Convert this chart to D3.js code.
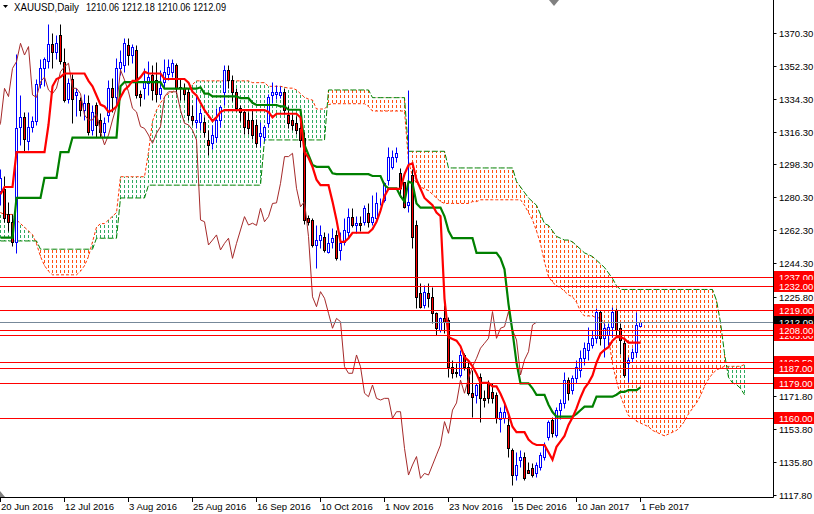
<!DOCTYPE html>
<html><head><meta charset="utf-8">
<script src="https://cdn.jsdelivr.net/npm/d3@7"></script>
<style>body{margin:0;background:#fff;}svg{display:block;font-family:"Liberation Sans",Arial,sans-serif;}</style>
</head><body><div id="chart"></div>
<script>
// ---------- DATA ----------
const symbolTitle = "XAUUSD,Daily";
const ohlcTitle = "1210.06 1212.18 1210.06 1212.09";
const dateLabels = ["20 Jun 2016","12 Jul 2016","3 Aug 2016","25 Aug 2016","16 Sep 2016","10 Oct 2016","1 Nov 2016","23 Nov 2016","15 Dec 2016","10 Jan 2017","1 Feb 2017"];
const dateLabelBars = [0,16,32,48,64,80,96,112,128,144,160];
const priceTicks = [1370.30,1352.30,1334.30,1316.30,1298.30,1280.30,1262.30,1244.30,1225.80,1171.80,1153.80,1135.80,1117.80];
const levelValues = [1237.00,1232.00,1219.00,1205.00,1208.00,1190.50,1187.00,1179.00,1160.00];
const currentPrice = 1212.09;

const opens = [1284,1285,1271,1267,1256,1319,1324,1311,1319,1322,
1342,1351,1355,1364,1360,1369,1354.5,1334,1345,1336,
1333.5,1328,1331.7,1317,1330.8,1322.6,1316.2,1325.3,1340,1335.4,
1350.8,1352.7,1363.6,1358,1361,1337,1340,1342.6,1347,1344.5,
1337,1343.5,1348,1349,1352.7,1340.8,1340,1338,1325,1321.7,
1321.7,1321.7,1311.7,1310,1313.5,1322.6,1338,1350,1344.5,1338,
1329,1327,1322.6,1322.6,1319.9,1314,1313.5,1320.8,1336.3,1337,
1336.3,1338,1325.3,1322.6,1320.8,1318,1313,1268.9,1268,1254.3,
1257,1258.9,1250.7,1256.1,1259.8,1251.6,1256,1261.6,1269.8,1265.2,
1266.2,1267,1271.6,1267,1268.9,1277,1278.9,1289.9,1297,1302.6,
1293.5,1288.9,1276.2,1292.6,1265.2,1227.9,1221.5,1227.9,1226,1217,
1208,1214.2,1213.3,1187.8,1185,1183.3,1194.2,1187.8,1173.3,1172.4,
1182.4,1170.5,1178.7,1174,1172.4,1159.2,1159.6,1156,1142.3,1128.6,
1136.7,1138.6,1131.4,1132.3,1129.5,1133.2,1138.7,1149.6,1158.7,1150.5,
1164,1168,1180.5,1175,1181.4,1186,1192.4,1196.9,1199.7,1203.3,
1217.9,1203.3,1205.1,1209.7,1218.8,1208.8,1200.6,1189.6,1192.4,1196,
1210.06];
const highs = [1296,1292,1278,1271,1358.5,1336,1327,1327,1325,1345,
1356,1357,1375,1370,1369,1375,1362,1345.4,1348,1340,
1335,1337,1336,1330.8,1332.6,1326.2,1324.4,1344.5,1345.4,1356.3,
1360.8,1367.2,1367.2,1364,1363.6,1339,1351,1355,1352.7,1354.5,
1350,1356,1356,1356,1353.6,1345.4,1342.6,1340,1330.8,1336.3,
1329,1324.4,1317,1319.9,1329,1330.8,1352.7,1352.7,1347,1340,
1331,1328,1327,1328,1323,1321.7,1320,1337,1343.5,1341.7,
1341,1340,1330,1326,1325,1322,1316,1270.6,1269,1265.2,
1265,1261.6,1260.7,1263.4,1262.5,1261.6,1268.9,1274.4,1274.4,1270,
1270,1276.2,1277,1281.6,1283.4,1279.8,1288.9,1308,1306,1308,
1296.2,1288.9,1339,1296,1268,1233.3,1232.4,1233.3,1231.5,1217.9,
1215,1221.5,1215,1191.5,1189.6,1196.9,1195.1,1190.5,1186,1178.7,
1184.2,1175,1180.5,1178.7,1174,1165.9,1168.7,1162.3,1143.2,1141.4,
1142.3,1141.4,1135.9,1135,1135.9,1141.4,1146.8,1158.7,1160.5,1166,
1170,1185,1182.4,1183.3,1191.5,1196.9,1201.5,1209.7,1207.9,1219.7,
1218.8,1211.5,1211.5,1220.6,1219.7,1211.5,1202.4,1193.3,1197.9,1217.9,
1212.18];
const lows = [1276,1267,1262,1254,1250,1309,1305,1306,1316,1320,
1340,1341,1351,1351,1356,1353,1332.6,1331.7,1320.8,1325,
1325,1322.6,1314.4,1314.4,1313.5,1313.5,1313.5,1321.7,1327,1330.8,
1347,1349,1352.7,1354,1334.4,1330,1334,1336,1333.5,1332.6,
1334,1340,1344.5,1346,1337,1333.5,1333.5,1322.6,1319.9,1318,
1317,1313.5,1303.5,1307,1310.8,1319,1330.8,1340,1333,1327.5,
1322,1315,1315,1312,1308,1308.5,1311,1319,1331.7,1334,
1334.4,1326,1318,1317,1315,1308,1266,1265.2,1253,1241.6,
1252.5,1250.7,1249.8,1252.5,1246.1,1246,1254.3,1258,1264.3,1261,
1262,1265.2,1264,1265,1267,1276,1278,1287,1296,1299.8,
1280.7,1274.3,1272.5,1252.5,1220,1219.7,1219.7,1220.6,1211.5,1205.1,
1206.9,1206,1182.4,1181.4,1182.4,1182.4,1186,1172.4,1160.5,1167.8,
1157.8,1166,1168,1167.8,1156.9,1152.3,1156.9,1138.7,1123.2,1125.9,
1133.2,1125.9,1129.5,1127.7,1127.7,1131.4,1136.9,1147.8,1149.6,1149.6,
1159,1165,1169.6,1173,1178.7,1182.4,1188.7,1191.5,1197.9,1200.6,
1199.7,1193.3,1199.7,1204.2,1205.1,1195,1182.4,1179.6,1190.5,1193.3,
1210.06];
const closes = [1291,1269,1267,1256,1318,1324,1312,1319,1322,1342,
1351,1356,1364,1360,1364.5,1355,1333.5,1342.6,1334,1338,
1328,1331.7,1316.2,1327,1320,1316.2,1320.8,1339.9,1335.4,1350.8,
1354.5,1364.5,1358.1,1362.7,1336.3,1335,1343.5,1346,1339,1337,
1340,1349,1351.7,1353.6,1340,1339.9,1337,1325.3,1322.6,1322.6,
1326.2,1316.2,1309,1314.4,1322.6,1329.9,1350,1344.5,1338,1329,
1327,1319,1318,1314.4,1309.9,1315.3,1319,1335.4,1338,1338,
1338,1328,1320.8,1319.9,1317.1,1311.7,1268,1267,1254.3,1257,
1259.8,1251.6,1255.2,1258,1247,1255.2,1262.5,1269.8,1265.2,1266.2,
1265,1274.4,1267,1269.8,1277,1277.3,1288,1302.6,1302.6,1304.4,
1285.3,1275.2,1278,1258.9,1226,1220.6,1228.8,1225.2,1217,1208.8,
1214.2,1212.4,1187.8,1184.2,1184.2,1194.2,1187.8,1173.3,1171.4,1177.8,
1170.5,1169.6,1170.5,1170.5,1159.6,1163.2,1163.2,1143.2,1128.6,1134.1,
1138.7,1126.8,1129.5,1128.6,1134.1,1139.6,1145,1157.8,1151.4,1164.1,
1168,1180.5,1173.3,1181.4,1187.8,1192.4,1197.9,1200.6,1203.3,1217.9,
1203.3,1208.8,1209.7,1217.9,1207.9,1202.4,1183.3,1191.5,1196,1210.6,
1212.09];

const tenkan = [1282,1286,1286,1286,1305,1305,1305,1305,1305,1305,
1305,1305,1320,1341,1345,1346,1348,1348,1348,1348,
1348,1348,1344,1341,1336,1331,1330,1327,1328,1330,
1335,1339,1341,1344,1344,1346,1349,1348,1348,1348,
1348,1345,1345,1345,1345,1345,1345,1343,1338,1336,
1332,1328,1325,1322,1324,1327,1328,1328,1328,1328,
1328,1328,1328,1328,1328,1328,1328,1327,1324,1326,
1326,1326,1326,1326,1326,1324,1305,1302,1297,1290,
1287,1287,1287,1278,1268,1256,1256,1258,1261,1261,
1261,1261,1261,1263,1267,1273,1281,1285,1285,1285,
1285,1293,1298,1299,1290,1285,1280,1278,1276,1272,
1270,1225,1204,1203,1202,1199,1193,1191,1188,1184,
1179,1179,1179,1177,1177,1173,1168,1162,1155,1152,
1152,1152,1148,1146,1145,1145,1145,1141,1137,1144,
1147,1150,1156,1160,1165,1171,1176,1179,1183,1190,
1195,1197,1198.5,1202,1204,1204,1203,1201,1201,1201,
1201];
const kijun = [1258.3,1258.3,1258.3,1258.3,1280,1280,1280,1280,1280,1280,
1280,1291,1291,1291,1291,1305,1305,1305,1313,1313,
1313,1313,1313,1313,1313,1313,1313,1313,1313,1313,
1341,1343.3,1343.3,1343.3,1343.3,1343.3,1343.3,1343.3,1343.3,1343.3,
1343.3,1339.7,1339.7,1339.7,1339.7,1339.7,1339.7,1339.7,1339.7,1339.7,
1340.5,1337,1337,1335.5,1335.5,1335.5,1335.5,1335.5,1335.5,1335.5,
1334.5,1334.5,1334.5,1332,1330.8,1330.8,1330.8,1330.8,1330.8,1330.8,
1330,1330,1328.2,1328.2,1328.2,1328.2,1309,1303.5,1298,1297,
1297,1297,1297,1293.5,1293,1293,1293,1293,1293,1293,
1293,1293,1293,1292,1292,1292,1287,1285.3,1285.3,1285.3,
1281,1278,1289,1288,1277,1274.7,1274.7,1274.7,1274.7,1274.7,
1274.7,1270,1262,1258,1258,1258,1258,1258,1258,1250,
1250,1250,1250,1250,1250,1247,1241,1222,1207,1190,
1178.7,1178.7,1178.7,1176,1172.4,1172.4,1172.4,1167,1163,1160.5,
1160.5,1160.5,1160.5,1160.5,1162,1164,1166,1166,1166,1171.4,
1171.4,1171.4,1171.4,1171.4,1172.5,1174,1174,1175,1175,1175,
1176.5];
const spanA = [1272,1271,1271,1271,1268,1266,1264,1262,1260,1255,
1248,1243,1240,1238,1238,1238,1238,1238,1238,1238,
1240,1243,1248,1256,1264,1266,1266,1268,1270,1272,
1291.6,1291.6,1291.6,1291.6,1291.6,1291.6,1291.6,1305,1322,1328,
1332,1335,1337,1338,1340,1340,1340,1340,1342,1344,
1344,1344,1344,1344,1344,1344,1344,1344,1344,1344,
1344,1344,1344,1343,1343,1343,1343,1341,1341,1341,
1341,1340.5,1340,1340,1339,1337,1335,1334,1333.5,1328.6,
1328.6,1328.6,1331,1331.5,1331.5,1331.5,1331.5,1331.5,1331.5,1331.5,
1331.5,1331.5,1330,1327.5,1327.5,1327.5,1327.5,1327.5,1327.5,1327.5,
1327.5,1327.5,1300,1292,1288,1286,1285,1284,1282,1280,
1278,1277,1277,1277,1277,1277,1277,1277,1278,1278,
1279,1279,1279,1279,1279,1279,1279,1279,1279,1279,
1279,1276,1272,1268,1262,1255,1245,1237,1234,1232,
1231,1229,1227,1226,1223,1218,1215.5,1215.5,1215.5,1214.5,
1214.5,1211,1204,1189,1180,1172,1166,1161,1160,1158,
1157,1156,1155,1153,1152,1151,1150,1151,1152,1153,
1155,1158,1162,1165,1168,1172,1177,1181,1184,1186,
1187,1188,1188,1188,1188,1188,1189];
const spanB = [1256.5,1256.5,1256.5,1256.5,1256.5,1256.5,1256.5,1256.5,1256.5,1256.5,
1252,1252,1252,1252,1252,1252,1252,1252,1252,1252,
1252,1252,1252,1252,1258,1258,1258,1258,1258,1258,
1280,1280,1280,1280,1280,1280,1280,1287,1287,1287,
1287,1287,1287,1287,1287,1287,1287,1287,1287,1287,
1287,1287,1287,1287,1287,1287,1287,1287,1287,1287,
1287,1287,1287,1287,1287,1287,1311.7,1311.7,1311.7,1311.7,
1311.7,1311.7,1311.7,1311.7,1311.7,1311.7,1311.7,1311.7,1311.7,1311.7,
1311.7,1311.7,1339,1339,1339,1339,1339,1339,1339,1339,
1339,1339,1339,1334.8,1334.8,1334.8,1334.8,1334.8,1334.8,1334.8,
1334.8,1334.8,1305.5,1305.5,1305.5,1305.5,1305.5,1305.5,1305.5,1305.5,
1305.5,1305.5,1296.4,1296.4,1296.4,1296.4,1296.4,1296.4,1296.4,1296.4,
1296.4,1296.4,1296.4,1296.4,1296.4,1296.4,1296.4,1296.4,1296.4,1289,
1286,1283,1280,1278,1276,1271,1266,1265,1262,1259,
1258,1257,1257,1256,1254,1252,1250,1249,1248,1246,
1244,1242,1239,1236,1232,1230,1230,1230,1230,1230,
1230,1230,1230,1230,1230,1230,1230,1230,1230,1230,
1230,1230,1230,1230,1230,1230,1230,1230,1230,1224,
1212,1195,1182,1179,1178,1176,1172.5];
const chikouShift = 26;

// ---------- STYLE ----------
const W = 814, H = 514, plotW = 773, plotH = 497;
const col = {bull:"#0000ff", bear:"#000000", bearFill:"#ff0000", tenkan:"#ff0000", kijun:"#008000",
  chikou:"#a52a2a", spanALine:"#ff3300", spanBLine:"#008000", cloudUp:"#2eaa60", cloudDn:"#ff5010",
  level:"#ff0000", current:"#778899"};

const x = d3.scaleLinear().domain([0, 193]).range([0.5, 772.5]);
const y = d3.scaleLinear().domain([1117.8, 1370.3]).range([494.8, 32.7]);
const py = v => Math.round(y(v)) + 0.5;

const svg = d3.select("#chart").append("svg").attr("width", W).attr("height", H);
svg.append("rect").attr("width", W).attr("height", H).attr("fill", "#fff");
svg.append("defs").append("clipPath").attr("id", "plot")
  .append("rect").attr("x", 0).attr("y", 0).attr("width", plotW).attr("height", plotH);
const g = svg.append("g").attr("clip-path", "url(#plot)");

// cloud hatch
const cIdx = d3.range(spanA.length);
g.append("g").selectAll("line").data(cIdx).join("line")
  .attr("x1", i => x(i)).attr("x2", i => x(i))
  .attr("y1", i => Math.min(y(spanA[i]), y(spanB[i])))
  .attr("y2", i => Math.max(y(spanA[i]), y(spanB[i])))
  .attr("stroke", i => spanA[i] >= spanB[i] ? col.cloudUp : col.cloudDn)
  .attr("stroke-width", 1)
  .attr("stroke-dasharray", "3,2")
  .attr("stroke-dashoffset", i => Math.min(y(spanA[i]), y(spanB[i])) % 5);

const lineGen = d3.line().x((d, i) => x(i)).y(d => y(d));
g.append("path").attr("d", lineGen(spanA)).attr("fill", "none").attr("stroke", col.spanALine)
  .attr("stroke-width", 1).attr("stroke-dasharray", "3,2");
g.append("path").attr("d", lineGen(spanB)).attr("fill", "none").attr("stroke", col.spanBLine)
  .attr("stroke-width", 1).attr("stroke-dasharray", "6,2");

// candles
const bars = d3.range(opens.length);
const cg = g.append("g");
cg.selectAll("line").data(bars).join("line")
  .attr("x1", i => x(i)).attr("x2", i => x(i))
  .attr("y1", i => py(highs[i])).attr("y2", i => py(lows[i]))
  .attr("stroke", i => closes[i] >= opens[i] ? col.bull : col.bear).attr("stroke-width", 1);
cg.selectAll("rect").data(bars).join("rect")
  .attr("x", i => x(i) - 1).attr("width", 2)
  .attr("y", i => py(Math.max(opens[i], closes[i])))
  .attr("height", i => Math.max(0, py(Math.min(opens[i], closes[i])) - py(Math.max(opens[i], closes[i]))))
  .attr("fill", i => closes[i] >= opens[i] ? "#ffffff" : col.bearFill)
  .attr("stroke", i => closes[i] >= opens[i] ? col.bull : col.bear).attr("stroke-width", 1);

// chikou, kijun, tenkan
const chikouGen = d3.line().x((d, i) => x(i - chikouShift)).y(d => y(d));
g.append("path").attr("d", chikouGen(closes)).attr("fill", "none").attr("stroke", col.chikou).attr("stroke-width", 1);
g.append("path").attr("d", lineGen(kijun)).attr("fill", "none").attr("stroke", col.kijun).attr("stroke-width", 2.2);
g.append("path").attr("d", lineGen(tenkan)).attr("fill", "none").attr("stroke", col.tenkan).attr("stroke-width", 2.2);

// horizontal levels
g.selectAll(".lvl").data(levelValues).join("line").attr("class", "lvl")
  .attr("x1", 0).attr("x2", plotW).attr("y1", d => py(d)).attr("y2", d => py(d))
  .attr("stroke", col.level).attr("stroke-width", 1);
g.append("line").attr("x1", 0).attr("x2", plotW).attr("y1", py(currentPrice)).attr("y2", py(currentPrice))
  .attr("stroke", col.current).attr("stroke-width", 1);

// axes frame
svg.append("line").attr("x1", plotW + 0.5).attr("x2", plotW + 0.5).attr("y1", 0).attr("y2", plotH + 0.5).attr("stroke", "#000");
svg.append("line").attr("x1", 0).attr("x2", plotW + 0.5).attr("y1", plotH + 0.5).attr("y2", plotH + 0.5).attr("stroke", "#000");

// price ticks
const pt = svg.append("g").attr("font-size", "9.5px").attr("fill", "#000");
priceTicks.forEach(v => {
  pt.append("line").attr("x1", plotW + 0.5).attr("x2", plotW + 3.5).attr("y1", py(v)).attr("y2", py(v)).attr("stroke", "#000");
  pt.append("text").attr("x", 779).attr("y", py(v) + 3.5).text(v.toFixed(2));
});

// date ticks
const dt = svg.append("g").attr("font-size", "9.5px").attr("fill", "#000");
dateLabels.forEach((lab, k) => {
  const xi = x(dateLabelBars[k]);
  dt.append("line").attr("x1", xi).attr("x2", xi).attr("y1", plotH + 0.5).attr("y2", plotH + 5).attr("stroke", "#000");
  dt.append("text").attr("x", xi + 0.5).attr("y", 509.5).text(lab);
});

// level labels (drawing order as in the reference: later ones cover earlier ones)
const labelOrder = [1237.00, 1232.00, 1219.00, currentPrice, 1205.00, 1208.00, 1190.50, 1187.00, 1179.00, 1160.00];
const lg = svg.append("g").attr("font-size", "9.5px");
labelOrder.forEach(v => {
  const yy = py(v);
  lg.append("rect").attr("x", 774).attr("y", yy - 6.5).attr("width", 40).attr("height", 12)
    .attr("fill", v === currentPrice ? "#000" : col.level);
  lg.append("text").attr("x", 779).attr("y", yy + 3.5).attr("fill", "#fff").text(v.toFixed(2));
});

// chart shift markers
svg.append("polygon").attr("points", "549,0 559,0 554,6").attr("fill", "#808080");
svg.append("polygon").attr("points", "0,491 0,497 5,497").attr("fill", "#808080");

// title
svg.append("polygon").attr("points", "3,5 8,5 5.5,8").attr("fill", "#000");
svg.append("text").attr("x", 14).attr("y", 11).attr("font-size", "10px").attr("fill", "#000")
  .attr("textLength", 65).attr("lengthAdjust", "spacingAndGlyphs").text(symbolTitle);
svg.append("text").attr("x", 86).attr("y", 11).attr("font-size", "10px").attr("fill", "#000")
  .attr("textLength", 140).attr("lengthAdjust", "spacingAndGlyphs").text(ohlcTitle);
</script>
</body></html>
